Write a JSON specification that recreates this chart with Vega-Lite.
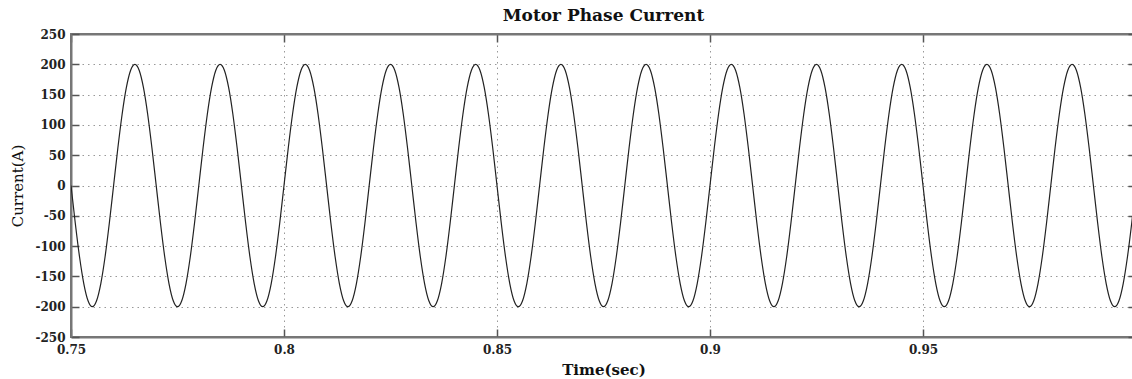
{
  "$schema": "https://vega.github.io/schema/vega-lite/v6.json",
  "autosize": {"type": "none"},
  "padding": {"left": 71, "top": 34, "right": 0, "bottom": 42},
  "width": 1065,
  "height": 303,
  "background": "white",
  "title": {"text": "Motor Phase Current", "font": "DejaVu Serif", "fontSize": 17, "fontWeight": "bold", "color": "#111", "anchor": "middle", "offset": 3},
  "config": {
    "view": {"stroke": "#777", "strokeWidth": 2},
    "axis": {"labelFont": "DejaVu Serif", "labelFontSize": 12, "labelFontWeight": "bold", "labelColor": "#222", "labelFlush": false, "titleFont": "DejaVu Serif", "titleFontSize": 15, "titleColor": "#111", "domainColor": "#777", "domainWidth": 2, "tickColor": "#555", "tickWidth": 1.5, "gridColor": "#999", "gridDash": [1.5, 4], "gridWidth": 1}
  },
  "data": {"values": [
{"t":0.750,"c":0},{"t":0.751,"c":-61.8},{"t":0.752,"c":-117.6},{"t":0.753,"c":-161.8},{"t":0.754,"c":-190.2},{"t":0.755,"c":-200},{"t":0.756,"c":-190.2},{"t":0.757,"c":-161.8},{"t":0.758,"c":-117.6},{"t":0.759,"c":-61.8},
{"t":0.760,"c":0},{"t":0.761,"c":61.8},{"t":0.762,"c":117.6},{"t":0.763,"c":161.8},{"t":0.764,"c":190.2},{"t":0.765,"c":200},{"t":0.766,"c":190.2},{"t":0.767,"c":161.8},{"t":0.768,"c":117.6},{"t":0.769,"c":61.8},
{"t":0.770,"c":0},{"t":0.771,"c":-61.8},{"t":0.772,"c":-117.6},{"t":0.773,"c":-161.8},{"t":0.774,"c":-190.2},{"t":0.775,"c":-200},{"t":0.776,"c":-190.2},{"t":0.777,"c":-161.8},{"t":0.778,"c":-117.6},{"t":0.779,"c":-61.8},
{"t":0.780,"c":0},{"t":0.781,"c":61.8},{"t":0.782,"c":117.6},{"t":0.783,"c":161.8},{"t":0.784,"c":190.2},{"t":0.785,"c":200},{"t":0.786,"c":190.2},{"t":0.787,"c":161.8},{"t":0.788,"c":117.6},{"t":0.789,"c":61.8},
{"t":0.790,"c":0},{"t":0.791,"c":-61.8},{"t":0.792,"c":-117.6},{"t":0.793,"c":-161.8},{"t":0.794,"c":-190.2},{"t":0.795,"c":-200},{"t":0.796,"c":-190.2},{"t":0.797,"c":-161.8},{"t":0.798,"c":-117.6},{"t":0.799,"c":-61.8},
{"t":0.800,"c":0},{"t":0.801,"c":61.8},{"t":0.802,"c":117.6},{"t":0.803,"c":161.8},{"t":0.804,"c":190.2},{"t":0.805,"c":200},{"t":0.806,"c":190.2},{"t":0.807,"c":161.8},{"t":0.808,"c":117.6},{"t":0.809,"c":61.8},
{"t":0.810,"c":0},{"t":0.811,"c":-61.8},{"t":0.812,"c":-117.6},{"t":0.813,"c":-161.8},{"t":0.814,"c":-190.2},{"t":0.815,"c":-200},{"t":0.816,"c":-190.2},{"t":0.817,"c":-161.8},{"t":0.818,"c":-117.6},{"t":0.819,"c":-61.8},
{"t":0.820,"c":0},{"t":0.821,"c":61.8},{"t":0.822,"c":117.6},{"t":0.823,"c":161.8},{"t":0.824,"c":190.2},{"t":0.825,"c":200},{"t":0.826,"c":190.2},{"t":0.827,"c":161.8},{"t":0.828,"c":117.6},{"t":0.829,"c":61.8},
{"t":0.830,"c":0},{"t":0.831,"c":-61.8},{"t":0.832,"c":-117.6},{"t":0.833,"c":-161.8},{"t":0.834,"c":-190.2},{"t":0.835,"c":-200},{"t":0.836,"c":-190.2},{"t":0.837,"c":-161.8},{"t":0.838,"c":-117.6},{"t":0.839,"c":-61.8},
{"t":0.840,"c":0},{"t":0.841,"c":61.8},{"t":0.842,"c":117.6},{"t":0.843,"c":161.8},{"t":0.844,"c":190.2},{"t":0.845,"c":200},{"t":0.846,"c":190.2},{"t":0.847,"c":161.8},{"t":0.848,"c":117.6},{"t":0.849,"c":61.8},
{"t":0.850,"c":0},{"t":0.851,"c":-61.8},{"t":0.852,"c":-117.6},{"t":0.853,"c":-161.8},{"t":0.854,"c":-190.2},{"t":0.855,"c":-200},{"t":0.856,"c":-190.2},{"t":0.857,"c":-161.8},{"t":0.858,"c":-117.6},{"t":0.859,"c":-61.8},
{"t":0.860,"c":0},{"t":0.861,"c":61.8},{"t":0.862,"c":117.6},{"t":0.863,"c":161.8},{"t":0.864,"c":190.2},{"t":0.865,"c":200},{"t":0.866,"c":190.2},{"t":0.867,"c":161.8},{"t":0.868,"c":117.6},{"t":0.869,"c":61.8},
{"t":0.870,"c":0},{"t":0.871,"c":-61.8},{"t":0.872,"c":-117.6},{"t":0.873,"c":-161.8},{"t":0.874,"c":-190.2},{"t":0.875,"c":-200},{"t":0.876,"c":-190.2},{"t":0.877,"c":-161.8},{"t":0.878,"c":-117.6},{"t":0.879,"c":-61.8},
{"t":0.880,"c":0},{"t":0.881,"c":61.8},{"t":0.882,"c":117.6},{"t":0.883,"c":161.8},{"t":0.884,"c":190.2},{"t":0.885,"c":200},{"t":0.886,"c":190.2},{"t":0.887,"c":161.8},{"t":0.888,"c":117.6},{"t":0.889,"c":61.8},
{"t":0.890,"c":0},{"t":0.891,"c":-61.8},{"t":0.892,"c":-117.6},{"t":0.893,"c":-161.8},{"t":0.894,"c":-190.2},{"t":0.895,"c":-200},{"t":0.896,"c":-190.2},{"t":0.897,"c":-161.8},{"t":0.898,"c":-117.6},{"t":0.899,"c":-61.8},
{"t":0.900,"c":0},{"t":0.901,"c":61.8},{"t":0.902,"c":117.6},{"t":0.903,"c":161.8},{"t":0.904,"c":190.2},{"t":0.905,"c":200},{"t":0.906,"c":190.2},{"t":0.907,"c":161.8},{"t":0.908,"c":117.6},{"t":0.909,"c":61.8},
{"t":0.910,"c":0},{"t":0.911,"c":-61.8},{"t":0.912,"c":-117.6},{"t":0.913,"c":-161.8},{"t":0.914,"c":-190.2},{"t":0.915,"c":-200},{"t":0.916,"c":-190.2},{"t":0.917,"c":-161.8},{"t":0.918,"c":-117.6},{"t":0.919,"c":-61.8},
{"t":0.920,"c":0},{"t":0.921,"c":61.8},{"t":0.922,"c":117.6},{"t":0.923,"c":161.8},{"t":0.924,"c":190.2},{"t":0.925,"c":200},{"t":0.926,"c":190.2},{"t":0.927,"c":161.8},{"t":0.928,"c":117.6},{"t":0.929,"c":61.8},
{"t":0.930,"c":0},{"t":0.931,"c":-61.8},{"t":0.932,"c":-117.6},{"t":0.933,"c":-161.8},{"t":0.934,"c":-190.2},{"t":0.935,"c":-200},{"t":0.936,"c":-190.2},{"t":0.937,"c":-161.8},{"t":0.938,"c":-117.6},{"t":0.939,"c":-61.8},
{"t":0.940,"c":0},{"t":0.941,"c":61.8},{"t":0.942,"c":117.6},{"t":0.943,"c":161.8},{"t":0.944,"c":190.2},{"t":0.945,"c":200},{"t":0.946,"c":190.2},{"t":0.947,"c":161.8},{"t":0.948,"c":117.6},{"t":0.949,"c":61.8},
{"t":0.950,"c":0},{"t":0.951,"c":-61.8},{"t":0.952,"c":-117.6},{"t":0.953,"c":-161.8},{"t":0.954,"c":-190.2},{"t":0.955,"c":-200},{"t":0.956,"c":-190.2},{"t":0.957,"c":-161.8},{"t":0.958,"c":-117.6},{"t":0.959,"c":-61.8},
{"t":0.960,"c":0},{"t":0.961,"c":61.8},{"t":0.962,"c":117.6},{"t":0.963,"c":161.8},{"t":0.964,"c":190.2},{"t":0.965,"c":200},{"t":0.966,"c":190.2},{"t":0.967,"c":161.8},{"t":0.968,"c":117.6},{"t":0.969,"c":61.8},
{"t":0.970,"c":0},{"t":0.971,"c":-61.8},{"t":0.972,"c":-117.6},{"t":0.973,"c":-161.8},{"t":0.974,"c":-190.2},{"t":0.975,"c":-200},{"t":0.976,"c":-190.2},{"t":0.977,"c":-161.8},{"t":0.978,"c":-117.6},{"t":0.979,"c":-61.8},
{"t":0.980,"c":0},{"t":0.981,"c":61.8},{"t":0.982,"c":117.6},{"t":0.983,"c":161.8},{"t":0.984,"c":190.2},{"t":0.985,"c":200},{"t":0.986,"c":190.2},{"t":0.987,"c":161.8},{"t":0.988,"c":117.6},{"t":0.989,"c":61.8},
{"t":0.990,"c":0},{"t":0.991,"c":-61.8},{"t":0.992,"c":-117.6},{"t":0.993,"c":-161.8},{"t":0.994,"c":-190.2},{"t":0.995,"c":-200},{"t":0.996,"c":-190.2},{"t":0.997,"c":-161.8},{"t":0.998,"c":-117.6},{"t":0.999,"c":-61.8},
{"t":1.000,"c":0}
  ]},
  "layer": [
    {
      "mark": {"type": "line", "color": "#222", "strokeWidth": 1.2, "interpolate": "monotone", "clip": true},
      "encoding": {
        "x": {"field": "t", "type": "quantitative", "scale": {"domain": [0.75, 1.0], "nice": false, "zero": false},
              "axis": {"orient": "bottom", "title": "Time(sec)", "titleFontWeight": "bold", "values": [0.75, 0.8, 0.85, 0.9, 0.95], "format": "~g", "tickSize": -8, "labelPadding": 15, "titlePadding": 7, "grid": true}},
        "y": {"field": "c", "type": "quantitative", "scale": {"domain": [-250, 250], "nice": false},
              "axis": {"orient": "left", "title": "Current(A)", "titleFontWeight": "normal", "values": [-250, -200, -150, -100, -50, 0, 50, 100, 150, 200, 250], "labelExpr": "replace(datum.label, '\u2212', '-')", "tickSize": -8, "labelPadding": 14, "titlePadding": 9, "grid": true}}
      }
    },
    {
      "mark": {"type": "line", "opacity": 0},
      "encoding": {
        "x": {"field": "t", "type": "quantitative", "scale": {"domain": [0.75, 1.0], "nice": false, "zero": false},
              "axis": {"orient": "top", "title": null, "labels": false, "values": [0.75, 0.8, 0.85, 0.9, 0.95], "tickSize": -8, "grid": false}},
        "y": {"field": "c", "type": "quantitative", "scale": {"domain": [-250, 250], "nice": false},
              "axis": {"orient": "right", "title": null, "labels": false, "values": [-250, -200, -150, -100, -50, 0, 50, 100, 150, 200, 250], "tickSize": -8, "grid": false}}
      }
    }
  ],
  "resolve": {"axis": {"x": "independent", "y": "independent"}}
}
